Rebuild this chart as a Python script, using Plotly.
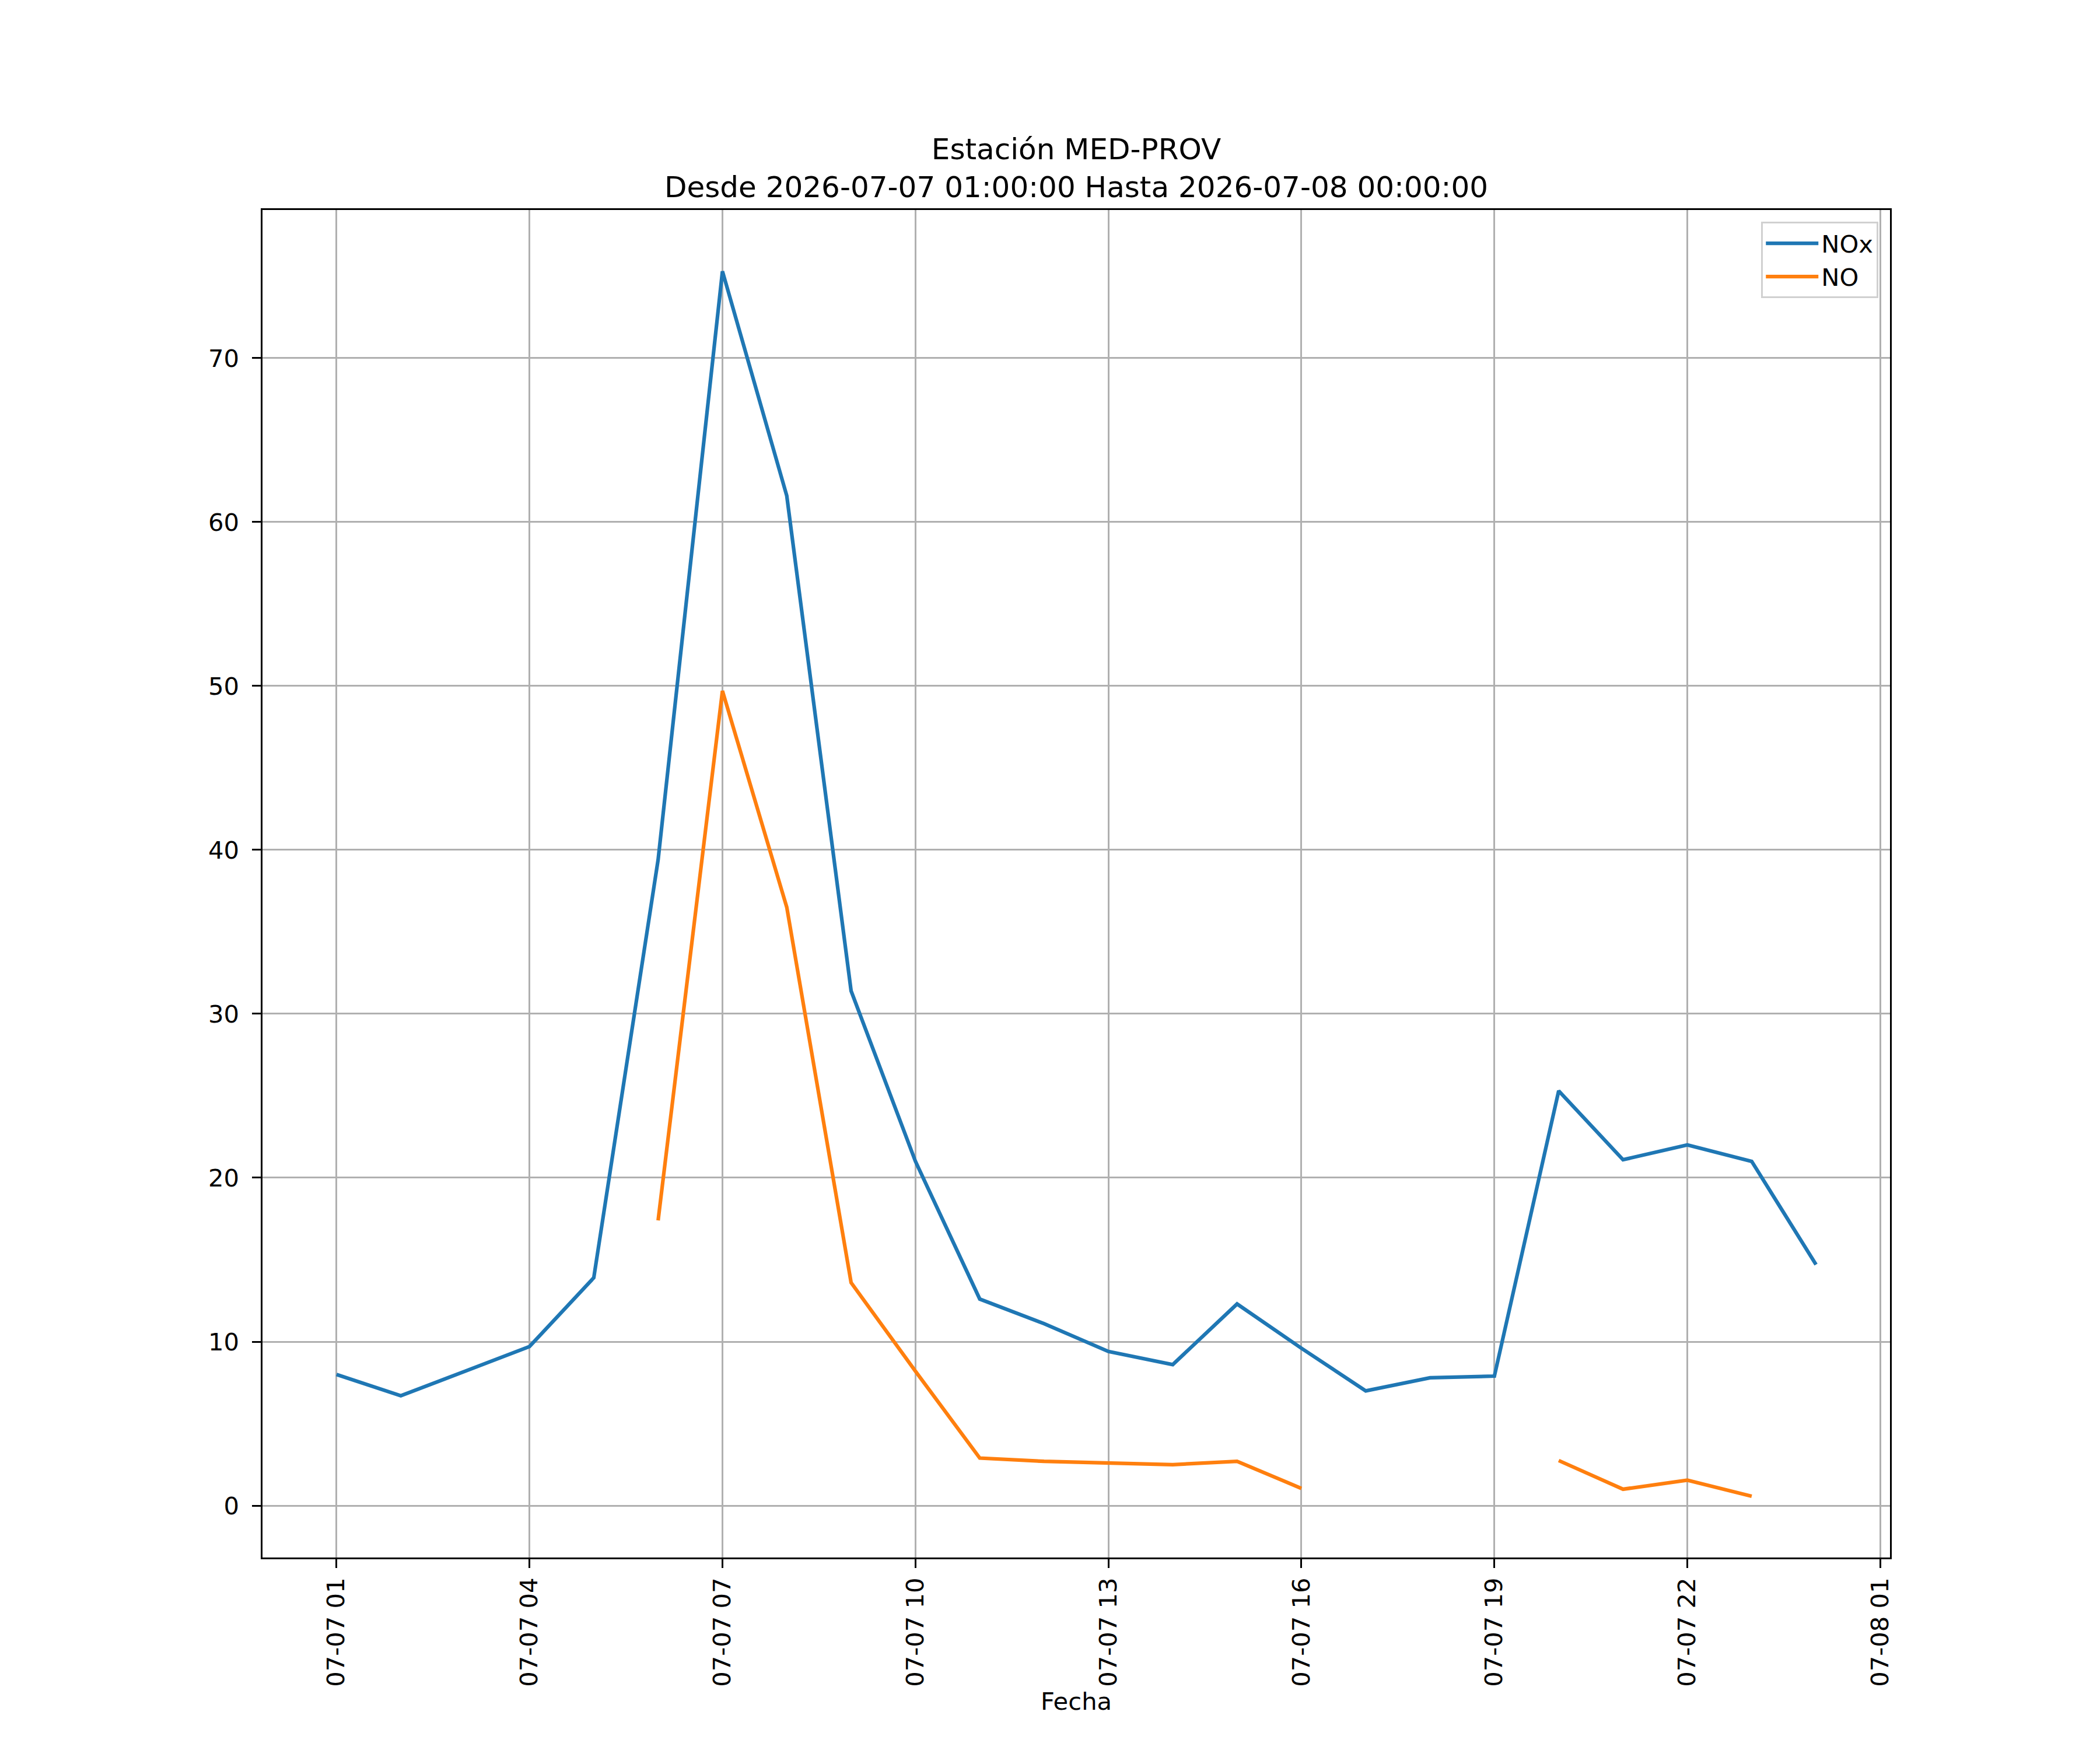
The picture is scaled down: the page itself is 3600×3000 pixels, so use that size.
import pandas as pd
import plotly.graph_objects as go

# Datos horarios de la estación
fechas = pd.date_range("2026-07-07 01:00", "2026-07-08 00:00", freq="h")

nox = [8.0, 6.7, 8.2, 9.7, 13.9, 39.4, 75.3, 61.6, 31.4, 21.0, 12.6, 11.1,
       9.4, 8.6, 12.3, 9.6, 7.0, 7.8, 7.9, 25.3, 21.1, 22.0, 21.0, 14.7]
no = [None, None, None, None, None, 17.4, 49.7, 36.5, 13.6, 8.2, 2.9, 2.7,
      2.6, 2.5, 2.7, 1.05, None, None, None, 2.75, 1.0, 1.55, 0.57, None]

y_ticks = [0, 10, 20, 30, 40, 50, 60, 70]

titulo = "Estación MED-PROV<br>Desde 2026-07-07 01:00:00 Hasta 2026-07-08 00:00:00"

# escala de matplotlib a 300 dpi
pt = 300 / 72
fuente = "DejaVu Sans"
body = 8  # margen del navegador

fig = go.Figure()
fig.add_trace(go.Scatter(x=fechas, y=nox, mode="lines", name="NOx",
                         line=dict(color="#1f77b4", width=1.5 * pt)))
fig.add_trace(go.Scatter(x=fechas, y=no, mode="lines", name="NO",
                         line=dict(color="#ff7f0e", width=1.5 * pt)))

# margenes como matplotlib (5%)
todos = [v for v in nox + no if v is not None]
dy = (max(todos) - min(todos)) * 0.05
dx = (fechas[-1] - fechas[0]) * 0.05
x_range = [fechas[0] - dx, fechas[-1] + dx]
y_range = [min(todos) - dy, max(todos) + dy]

eje = dict(
    showline=True, linecolor="black", linewidth=0.8 * pt, mirror=True,
    showgrid=True, gridcolor="#b0b0b0", gridwidth=0.8 * pt,
    zeroline=False, ticks="outside", ticklen=3.5 * pt, tickwidth=0.8 * pt,
    tickcolor="black", tickfont=dict(family=fuente, size=10 * pt, color="black"),
)

fig.update_layout(
    width=3600, height=3000,
    margin=dict(l=450 - body, r=360 + body, t=360 - body, b=330 + body),
    paper_bgcolor="white", plot_bgcolor="white",
    font=dict(family=fuente, size=10 * pt, color="black"),
    title=dict(text=titulo, x=(1845 - body) / 3600, xref="container", xanchor="center",
               y=1 - (273 - body) / 3000, yref="container", yanchor="middle",
               font=dict(family=fuente, size=12 * pt, color="black")),
    xaxis=dict(eje, type="date", range=x_range,
               tick0="2026-07-07 01:00", dtick=3 * 3600 * 1000,
               tickformat="%m-%d %H", tickangle=-90, ticklabelstandoff=0,
               title=dict(text="Fecha", standoff=10,
                          font=dict(family=fuente, size=10 * pt, color="black"))),
    yaxis=dict(eje, range=y_range, tickvals=y_ticks, ticklabelstandoff=int(3.5 * pt)),
    legend=dict(x=0.9928, y=0.9913, xanchor="right", yanchor="top",
                bgcolor="rgba(255,255,255,0.8)", bordercolor="#d0d0d0",
                borderwidth=0.8 * pt, itemwidth=90,
                font=dict(family=fuente, size=10 * pt)),
    showlegend=True,
)

fig.write_html("out.html")
